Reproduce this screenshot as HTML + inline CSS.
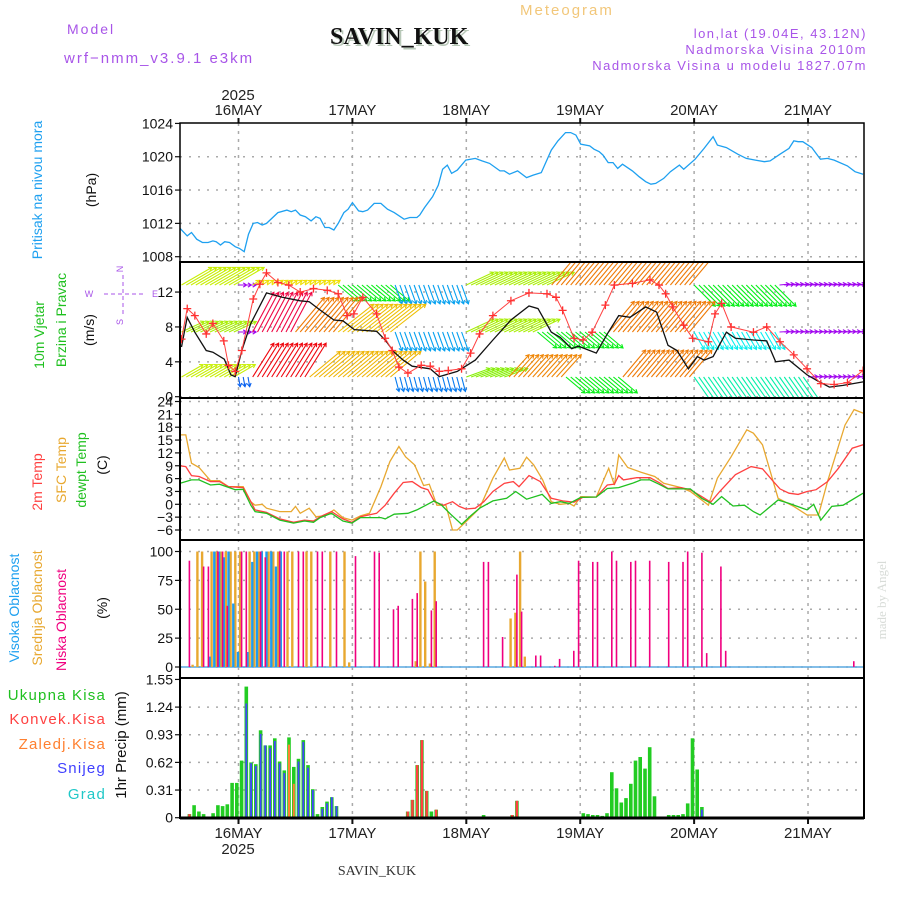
<!DOCTYPE html>
<html><head><meta charset="utf-8"><style>
body{margin:0;background:#fff}
svg{display:block;font-family:"Liberation Sans",sans-serif}
</style></head><body>
<svg id="chart" width="900" height="900" viewBox="0 0 900 900" xmlns="http://www.w3.org/2000/svg">
<defs>
<clipPath id="cp1"><rect x="180" y="123" width="684" height="139"/></clipPath>
<clipPath id="cp2"><rect x="180" y="262" width="684" height="136"/></clipPath>
<clipPath id="cp3"><rect x="180" y="398" width="684" height="142"/></clipPath>
<clipPath id="cp4"><rect x="180" y="540" width="684" height="138"/></clipPath>
<clipPath id="cp5"><rect x="180" y="678" width="684" height="140"/></clipPath>
</defs>
<rect width="900" height="900" fill="#fff"/>
<g>
<text x="67" y="34" font-size="14" fill="#a855e8" letter-spacing="2">Model</text>
<text x="64" y="63" font-size="15" fill="#a855e8" letter-spacing="2">wrf−nmm_v3.9.1 e3km</text>
<text x="332" y="46" font-size="24" font-weight="bold" font-family="Liberation Serif,serif" fill="#b8c8b8">SAVIN_KUK</text>
<text x="330" y="44" font-size="24" font-weight="bold" font-family="Liberation Serif,serif" fill="#111">SAVIN_KUK</text>
<text x="520" y="15" font-size="15" fill="#f2c77a" letter-spacing="2">Meteogram</text>
<text x="867" y="38" font-size="13" fill="#a855e8" text-anchor="end" letter-spacing="1.5">lon,lat (19.04E, 43.12N)</text>
<text x="867" y="54" font-size="13" fill="#a855e8" text-anchor="end" letter-spacing="1.5">Nadmorska Visina 2010m</text>
<text x="867" y="70" font-size="13" fill="#a855e8" text-anchor="end" letter-spacing="1.5">Nadmorska Visina u modelu 1827.07m</text>
<text x="238" y="100" font-size="15" fill="#222" text-anchor="middle">2025</text>
<text x="238" y="854" font-size="15" fill="#222" text-anchor="middle">2025</text>
<text x="377" y="875" font-size="14" font-family="Liberation Serif,serif" fill="#333" text-anchor="middle">SAVIN_KUK</text>
<text x="886" y="600" font-size="13" font-family="Liberation Serif,serif" fill="#d8dcd8" text-anchor="middle" transform="rotate(-90 886 600)">made by Angel</text>
</g>
<g font-size="14">
<text x="0" y="0" fill="#1ea0f0" text-anchor="middle" transform="translate(42,190) rotate(-90)">Pritisak na nivou mora</text>
<text x="0" y="0" fill="#111" text-anchor="middle" transform="translate(96,190) rotate(-90)">(hPa)</text>
<text x="0" y="0" fill="#20c020" text-anchor="middle" transform="translate(44,335) rotate(-90)">10m Vjetar</text>
<text x="0" y="0" fill="#20c020" text-anchor="middle" transform="translate(66,320) rotate(-90)">Brzina i Pravac</text>
<text x="0" y="0" fill="#111" text-anchor="middle" transform="translate(94,330) rotate(-90)">(m/s)</text>
<g fill="#a855e8" font-size="9" text-anchor="middle">
<text x="123" y="269" transform="rotate(-90 123 269)" font-size="9">N</text>
<text x="89" y="297">W</text><text x="155" y="297">E</text>
<text x="123" y="322" transform="rotate(-90 123 322)">S</text>
<line x1="104" y1="294" x2="143" y2="294" stroke="#a855e8" stroke-dasharray="4,3"/>
<line x1="123" y1="275" x2="123" y2="314" stroke="#a855e8" stroke-dasharray="4,3"/>
</g>
<text x="0" y="0" fill="#ff4040" text-anchor="middle" transform="translate(42,482) rotate(-90)">2m Temp</text>
<text x="0" y="0" fill="#e8a830" text-anchor="middle" transform="translate(66,470) rotate(-90)">SFC Temp</text>
<text x="0" y="0" fill="#20c020" text-anchor="middle" transform="translate(86,470) rotate(-90)">dewpt Temp</text>
<text x="0" y="0" fill="#111" text-anchor="middle" transform="translate(107,465) rotate(-90)">(C)</text>
<text x="0" y="0" fill="#1ea0f0" text-anchor="middle" transform="translate(19,608) rotate(-90)">Visoka Oblacnost</text>
<text x="0" y="0" fill="#e8a830" text-anchor="middle" transform="translate(42,608) rotate(-90)">Srednja Oblacnost</text>
<text x="0" y="0" fill="#f0007f" text-anchor="middle" transform="translate(66,620) rotate(-90)">Niska Oblacnost</text>
<text x="0" y="0" fill="#111" text-anchor="middle" transform="translate(107,608) rotate(-90)">(%)</text>
<g font-size="15" letter-spacing="1.2" text-anchor="end">
<text x="106" y="700" fill="#20c020">Ukupna Kisa</text>
<text x="106" y="724" fill="#ff4040">Konvek.Kisa</text>
<text x="106" y="749" fill="#ff8030">Zaledj.Kisa</text>
<text x="106" y="773" fill="#4040ff">Snijeg</text>
<text x="106" y="799" fill="#20c8c8">Grad</text>
</g>
<text x="0" y="0" fill="#111" font-size="15" text-anchor="middle" transform="translate(126,745) rotate(-90)">1hr Precip (mm)</text>
</g>
<g id="grid"></g>
<g id="marks"></g>
<g id="frames"></g>
</svg>
<script>
// ---- data ----
const dayTickLabels = ["16MAY","17MAY","18MAY","19MAY","20MAY","21MAY"];
const dayTickHours = [0,24,48,72,96,120];
const pressTicks = [1008,1012,1016,1020,1024];
const windTicks = [0,4,8,12];
const tempTicks = [24,21,18,15,12,9,6,3,0,-3,-6];
const cloudTicks = [0,25,50,75,100];
const precipTicks = [0,0.31,0.62,0.93,1.24,1.55];

const pressHours = [-12.3,-10.8,-9.9,-8.8,-7.6,-6.4,-5.4,-4.7,-3.8,-2.9,-1.9,-0.7,0.2,1.2,2.1,3.1,4.0,5.0,5.9,8.3,10.2,11.1,12.0,13.0,14.1,15.3,16.3,17.2,18.2,19.1,20.1,21.0,22.2,23.1,24.0,25.3,26.2,27.2,28.6,30.0,31.4,32.8,34.9,36.1,37.6,38.2,39.2,40.9,42.1,43.0,44.0,44.9,46.1,47.9,49.9,51.3,52.9,55.1,56.0,57.1,58.8,60.7,62.1,63.8,65.9,67.3,68.9,70.0,71.1,72.1,74.0,74.9,76.0,76.8,77.9,78.9,79.9,80.9,83.0,84.4,85.8,86.9,87.9,89.6,91.0,92.9,93.8,96.2,98.1,100.0,100.9,102.8,105.2,107.0,108.9,110.8,112.0,114.1,116.0,117.0,117.9,118.9,120.8,122.6,124.1,125.5,128.3,129.9,131.6];
const pressVals = [1011.4,1010.5,1010.9,1010.1,1009.7,1009.7,1009.9,1009.8,1009.4,1009.8,1009.7,1009.2,1009.0,1008.6,1010.7,1012.0,1012.1,1011.8,1012.0,1013.3,1013.6,1013.4,1013.6,1013.0,1012.8,1012.3,1012.8,1012.6,1011.5,1011.5,1011.2,1012.0,1013.3,1013.7,1014.5,1013.5,1013.4,1013.6,1014.4,1014.4,1013.7,1013.3,1012.5,1012.7,1012.7,1013.0,1013.9,1015.2,1016.6,1018.5,1019.0,1018.0,1018.4,1019.6,1019.8,1019.5,1019.2,1018.3,1018.3,1017.9,1018.3,1017.5,1017.8,1018.1,1020.8,1021.9,1022.9,1022.9,1022.6,1021.5,1021.3,1020.9,1020.6,1020.2,1019.3,1019.3,1018.6,1019.1,1018.3,1017.6,1017.0,1016.7,1016.8,1017.4,1018.2,1019.0,1018.5,1019.7,1021.0,1022.4,1021.4,1021.1,1020.3,1019.8,1019.6,1019.4,1019.5,1020.3,1021.0,1021.9,1021.8,1021.8,1021.1,1019.7,1019.8,1019.6,1018.9,1018.2,1017.9];

const speedHours = [-12.0,-10.8,-9.2,-6.8,-5.4,-3.0,-1.6,-0.7,0.7,2.6,5.9,9.2,13.0,14.9,16.8,20.1,22.0,24.4,29.1,30.9,32.8,34.7,36.6,40.4,42.3,46.1,49.9,53.6,57.4,61.2,63.1,65.9,67.8,70.2,71.6,75.4,77.7,80.1,82.5,85.8,88.1,90.5,92.4,94.8,96.7,98.1,100.0,102.8,104.7,108.5,111.3,113.2,116.0,119.8,121.7,124.5,127.4,131.6];
const speedVals = [5.7,9.1,7.4,5.3,5.1,4.3,2.5,2.3,5.3,8.4,11.9,11.4,11.0,10.9,10.1,8.8,8.7,7.7,7.5,6.5,5.1,4.2,3.5,3.2,2.3,2.9,4.2,6.5,8.8,10.4,10.1,7.4,6.8,5.5,5.8,5.0,7.2,9.3,9.1,10.3,9.7,5.9,5.3,3.2,4.6,4.2,4.6,7.4,6.7,6.5,6.4,4.0,4.2,2.5,1.9,1.1,1.3,1.7];
const gustHours = [-12.0,-10.8,-9.2,-6.8,-5.4,-3.1,-2.1,-0.7,0.7,3.1,4.5,5.9,8.3,10.6,13.0,15.8,18.7,21.0,22.9,24.3,26.2,29.1,30.9,32.4,33.8,35.7,38.5,40.4,42.3,44.2,47.0,48.9,50.8,53.6,57.4,61.2,65.0,66.9,68.3,70.7,72.6,74.5,77.3,79.2,83.0,86.7,88.6,90.0,91.5,93.8,95.7,99.0,100.4,101.8,103.8,108.5,111.3,114.1,117.0,119.8,122.7,125.5,128.3,131.6];
const gustVals = [6.6,10.1,9.3,7.2,8.4,6.4,3.6,2.9,5.3,11.2,12.9,14.2,13.1,12.8,12.0,12.4,12.2,11.8,9.3,9.5,11.4,9.5,6.7,5.3,3.4,2.7,3.6,3.5,2.9,3.0,3.2,5.0,7.2,9.3,11.0,11.9,11.8,11.4,9.9,6.7,6.5,7.4,10.5,12.8,13.0,13.4,12.8,11.8,10.3,8.2,6.7,6.3,9.5,10.7,8.0,7.4,8.0,6.3,4.8,3.2,1.5,1.4,1.6,3.0];

const windHours = [-12,-9,-6,-3,0,3,6,9,12,15,18,21,24,27,30,33,36,39,42,45,48,51,54,57,60,63,66,69,72,75,78,81,84,87,90,93,96,99,102,105,108,111,114,117,120,123,126,129,132];
const dir1 = [240,240,240,240,270,235,235,235,235,235,235,310,310,310,310,340,340,340,340,340,245,245,245,245,245,245,220,220,220,220,220,220,220,220,220,220,315,315,315,315,315,315,265,265,265,265,265,265,265];
const spd1 = [11.7,11.7,11.7,11.7,2.7,2.7,2.7,2.7,2.7,2.7,2.7,8.3,8.3,8.3,8.3,6.7,6.7,6.7,6.7,6.7,10,10,10,10,10,10,13.3,13.3,13.3,13.3,13.3,13.3,13.3,13.3,13.3,13.3,10,10,10,10,10,10,3.3,3.3,3.3,3.3,3.3,3.3,3.3];
const dir2 = [245,245,245,245,270,208,208,208,220,220,220,232,232,232,232,340,340,340,340,340,245,245,245,245,245,310,310,310,310,310,220,220,220,220,220,220,330,330,330,330,330,330,267,267,267,267,267,267,267];
const spd2 = [8.3,8.3,8.3,8.3,2.7,15,15,15,15,15,15,15,15,15,15,6.7,6.7,6.7,6.7,6.7,10,10,10,10,10,8.3,8.3,8.3,8.3,8.3,13.3,13.3,13.3,13.3,13.3,13.3,6.7,6.7,6.7,6.7,6.7,6.7,3.3,3.3,3.3,3.3,3.3,3.3,3.3];
const dir3 = [240,240,240,240,350,212,212,212,212,230,230,230,230,230,230,345,345,345,345,345,250,250,250,222,222,222,222,310,310,310,310,220,220,220,220,220,325,325,325,325,325,325,325,325,267,267,267,267,267];
const spd3 = [8.3,8.3,8.3,8.3,3.3,13.3,13.3,13.3,13.3,13.3,13.3,13.3,13.3,13.3,13.3,5,5,5,5,5,8.3,8.3,8.3,10,10,10,10,8.3,8.3,8.3,8.3,11.7,11.7,11.7,11.7,11.7,10,10,10,10,10,10,10,10,3.3,3.3,3.3,3.3,3.3];

const t2Hours = [-12.3,-11.1,-9.9,-8.3,-5.9,-4.0,-2.1,1.0,2.6,3.5,5.9,8.7,11.6,13.9,15.8,17.2,19.6,22.0,23.9,25.7,29.1,30.9,32.8,34.7,36.6,38.5,39.9,41.3,43.2,45.1,46.5,47.9,49.9,51.7,53.6,56.0,57.9,59.1,61.2,63.6,65.9,68.3,70.7,72.5,75.4,77.7,79.2,80.1,81.1,83.9,86.7,88.6,90.5,93.3,95.2,97.6,99.5,101.4,104.7,108.0,110.4,112.7,114.1,116.0,117.9,119.8,121.7,124.1,126.4,129.3,131.6];
const t2Vals = [9.0,8.8,6.7,6.5,5.3,5.3,4.1,3.9,0.6,-1.3,-1.9,-3.4,-4.2,-3.7,-3.9,-2.9,-1.7,-3.4,-4.2,-2.9,-2.1,-0.2,2.6,5.1,5.3,3.9,3.4,0.6,-0.2,0.6,-0.5,-1.1,-0.9,0.6,3.0,4.9,5.3,4.1,6.7,5.3,1.4,0.8,0.5,1.6,1.7,4.5,4.7,6.7,5.7,6.2,6.2,5.1,3.7,3.9,3.4,1.8,0.5,3.0,6.9,8.8,8.3,5.3,3.6,2.6,2.3,3.0,3.4,5.3,8.4,13.1,13.9];
const sfcHours = [-12.3,-11.1,-9.9,-8.3,-5.9,-4.0,-2.1,1.0,2.6,3.5,5.0,5.9,8.7,11.1,12.0,13.0,14.9,16.3,18.2,20.1,22.0,23.9,25.7,27.6,30.0,31.9,33.8,35.2,37.1,39.0,40.2,41.8,43.7,45.1,46.1,47.9,50.8,53.6,56.0,57.1,59.3,60.7,62.2,64.1,65.9,67.8,69.7,70.7,72.1,75.4,78.0,79.2,80.1,82.0,84.8,87.7,89.6,93.3,95.2,97.6,99.0,100.9,103.8,107.1,108.5,110.4,113.7,117.0,119.8,122.2,124.1,127.8,129.7,131.6];
const sfcVals = [16.2,16.2,9.6,8.6,5.5,5.5,4.1,4.1,0.6,-0.2,0,-0.9,-1.7,-1.7,-0.5,-2.1,-0.9,-2.9,-2.7,-1.3,-3.1,-3.7,-2.7,-2.1,4.1,10.0,13.5,11.1,9.2,4.4,4.7,-0.2,-0.2,-6.0,-6.0,-4.1,-0.9,6.1,10.8,8.0,8.4,11.0,9.2,5.7,0.6,0,0.2,-0.4,1.8,1.7,8.4,4.5,11.5,8.6,7.5,6.5,4.9,3.9,3.0,1.0,-0.2,6.1,11.1,17.4,16.6,13.9,1.4,-0.5,-2.5,-2.5,5.3,18.5,22.1,21.3];
const dewHours = [-12.3,-9.9,-8.3,-5.9,-4.0,-0.7,1.0,2.6,3.5,5.9,8.7,11.6,13.9,15.8,17.2,19.6,22.0,23.9,25.7,30.0,30.9,32.8,35.7,37.6,39.5,41.2,42.8,44.7,47.0,48.9,50.8,53.6,56.5,58.4,60.7,64.0,65.9,67.8,69.7,72.1,75.4,77.7,80.1,83.0,84.8,86.7,88.6,90.5,95.2,97.6,100.0,101.8,104.2,106.6,108.5,109.9,113.7,116.0,119.8,121.2,122.7,125.0,127.4,131.6];
const dewVals = [4.9,5.7,5.7,4.5,4.7,3.4,3.5,-0.2,-1.7,-2.1,-3.7,-4.4,-3.9,-4.2,-3.1,-2.1,-3.9,-4.4,-3.1,-3.1,-3.4,-2.3,-2.1,-1.3,-0.2,0.8,-0.2,-2.3,-4.7,-2.7,-0.9,0.8,1.4,3.0,1.2,2.3,0.2,0.6,0.2,1.6,1.7,3.7,3.9,4.9,5.7,5.7,4.7,3.6,3.6,1.4,0,1.8,-0.4,-0.2,-1.7,-2.5,1.0,0.2,-1.3,0,-3.7,-0.5,-0.2,2.6];

const lowHours = [-10,-7,-6,-4,-3,-2,1,2,5,6,9,10,13,14,17,18,21,25,29,30,33,34,37,38,41,42,52,53,56,59,60,63,64,67,68,71,72,75,76,79,80,83,84,87,91,94,95,98,99,102,103,130];
const lowVals = [92,87,87,100,100,53,100,100,100,95,100,100,100,100,100,100,100,96,100,99,50,53,59,64,49,57,91,91,26,80,48,10,10,1,7,14,92,91,91,100,92,91,92,92,91,91,100,99,12,87,14,5];
const midHours = [-9,-8,-7,-5,-4,-3,-2,-1,0,1,3,4,5,7,8,9,11,12,15,16,20,23,24,38,39,40,41,42,58,59,60,61];
const midVals = [2,100,100,100,100,100,100,100,100,100,100,100,100,100,100,100,100,100,100,100,100,100,4,5,100,74,3,100,42,47,100,9];
const highHours = [-6,-5,-4,-3,-2,-1,0,2,3,4,5,6,7,8,9];
const highVals = [9,100,100,95,100,55,13,13,91,100,100,100,100,87,100];

const totalHours = [-10,-9,-8,-7,-5,-4,-3,-2,-1,0,1,2,3,4,5,6,7,8,9,10,11,12,13,14,15,16,17,18,19,20,21,36,37,38,39,40,41,42,52,58,59,73,74,75,76,77,78,79,80,81,82,83,84,85,86,87,88,90,91,92,93,94,95,96,97,98];
const totalVals = [0.04,0.14,0.07,0.04,0.05,0.14,0.13,0.15,0.39,0.39,0.64,1.47,0.62,0.60,0.98,0.81,0.81,0.89,0.63,0.53,0.90,0.57,0.66,0.87,0.59,0.32,0.04,0.12,0.18,0.23,0.13,0.07,0.20,0.59,0.87,0.30,0.07,0.09,0.03,0.03,0.19,0.05,0.04,0.03,0.03,0.02,0.05,0.51,0.33,0.17,0.22,0.38,0.64,0.68,0.55,0.79,0.24,0.01,0.03,0.03,0.03,0.04,0.16,0.89,0.54,0.12];
const snowHours = [2,3,4,5,6,7,8,9,10,13,14,15,16,18,19,20,21,98];
const snowVals = [1.28,0.61,0.58,0.94,0.81,0.78,0.86,0.61,0.50,0.63,0.85,0.56,0.31,0.10,0.16,0.23,0.13,0.09];
const frozenHours = [11,12];
const frozenVals = [0.82,0.38];
const convHours = [-10,36,37,38,39,40,42,58,59];
const convVals = [0.04,0.07,0.20,0.59,0.87,0.30,0.09,0.03,0.19];

// ---- scales ----
const X0 = 238.5, PXH = 4.746, BAR_SHIFT = -0.35;
const xS = h => X0 + h * PXH;
const yP = p => 256.7 - (p - 1008) * 8.33;
const yW = v => 396.7 - v * 8.72;
const yT = t => 504.3 - t * 4.283;
const yC = c => 667 - c * 1.155;
const yR = r => 817.7 - r * 89.2;
const L = 180, R = 864;
const NS = "http://www.w3.org/2000/svg";
function mk(tag, attrs, parent) {
  const e = document.createElementNS(NS, tag);
  for (const k in attrs) e.setAttribute(k, attrs[k]);
  parent.appendChild(e);
  return e;
}
const grid = document.getElementById('grid');
const marks = document.getElementById('marks');
const frames = document.getElementById('frames');

function yAxis(ticks, yf, top, bottom, name, fmt) {
  ticks.forEach(t => {
    const y = yf(t);
    if (y > top + 2 && y < bottom - 1) {
      const g = mk('line', {x1: L, x2: R, y1: y, y2: y, stroke: '#aaa', 'stroke-dasharray': '2,7', 'stroke-width': 1.5}, grid);
      
      
    }
    const tk = mk('line', {x1: L - 5, x2: L, y1: y, y2: y, stroke: '#111', 'stroke-width': 1.2}, frames);
    
    
    const tx = mk('text', {x: L - 7, y: y + 5, 'font-size': 14, 'text-anchor': 'end', fill: '#111'}, frames);
    
    
    tx.textContent = fmt ? fmt(t) : String(t);
  });
}
yAxis(pressTicks, yP, 123, 262, 'pressure');
yAxis(windTicks, yW, 262, 400, 'wind');
yAxis(tempTicks, yT, 398, 540, 'temp', t => t < 0 ? '−' + (-t) : String(t));
yAxis(cloudTicks, yC, 540, 678, 'cloud');
yAxis(precipTicks, yR, 678, 818, 'precip', t => t === 0 ? '0' : t.toFixed(2));

dayTickHours.forEach((h, i) => {
  const x = xS(h);
  const g = mk('line', {x1: x, x2: x, y1: 123, y2: 818, stroke: '#aaa', 'stroke-dasharray': '3,5', 'stroke-width': 1.5}, grid);
  
  
  [[123, 118], [818, 824]].forEach(([a, b]) => {
    const tk = mk('line', {x1: x, x2: x, y1: a, y2: b, stroke: '#111', 'stroke-width': 2}, frames);
    
    
  });
  const t1 = mk('text', {x: x, y: 115, 'font-size': 15, 'text-anchor': 'middle', fill: '#222'}, frames);
  
  
  t1.textContent = dayTickLabels[i];
  const t2 = mk('text', {x: x, y: 838, 'font-size': 15, 'text-anchor': 'middle', fill: '#222'}, frames);
  
  
  t2.textContent = dayTickLabels[i];
});

function line(hours, vals, yf, color, clip, name, w) {
  const d = hours.map((h, i) => (i ? 'L' : 'M') + xS(h).toFixed(1) + ',' + yf(vals[i]).toFixed(1)).join('');
  const p = mk('path', {d: d, fill: 'none', stroke: color, 'stroke-width': w || 1.3, 'clip-path': 'url(#' + clip + ')'}, marks);
  
  
}
line(pressHours, pressVals, yP, '#1ea0f0', 'cp1', 'pressure-line');

function hueFor(dir) {
  const tbl = [[200, 320], [210, 350], [220, 390], [232, 408], [240, 430], [252, 450], [256, 640], [280, 640], [290, 480], [315, 485], [330, 540], [345, 570], [360, 590]];
  for (let i = 1; i < tbl.length; i++) {
    if (dir <= tbl[i][0]) {
      const [a, ha] = tbl[i - 1], [b, hb] = tbl[i];
      return (ha + (hb - ha) * (dir - a) / (b - a)) % 360;
    }
  }
  return 230;
}
const windRows = [[dir1, spd1, 285], [dir2, spd2, 332], [dir3, spd3, 377]];
const wg = mk('g', {'clip-path': 'url(#cp2)'}, marks);


windRows.forEach(([dirs, spds, by], r) => {
  windHours.forEach((h, i) => {
    const to = (dirs[i] + 180) * Math.PI / 180;
    const len = spds[i] * 3;
    const dx = Math.sin(to) * len, dy = -Math.cos(to) * len;
    const col = 'hsl(' + hueFor(dirs[i]).toFixed(0) + ',95%,48%)';
    for (let s = 0; s < 3; s++) {
      const x = xS(h + s);
      const tx = x + dx, ty = by + dy;
      const ang = Math.atan2(dy, dx);
      const a1 = ang + 2.6, a2 = ang - 2.6;
      const a = mk('path', {d: 'M' + x.toFixed(1) + ',' + by + 'L' + tx.toFixed(1) + ',' + ty.toFixed(1) +
        'M' + (tx + 4 * Math.cos(a1)).toFixed(1) + ',' + (ty + 4 * Math.sin(a1)).toFixed(1) + 'L' + tx.toFixed(1) + ',' + ty.toFixed(1) +
        'L' + (tx + 4 * Math.cos(a2)).toFixed(1) + ',' + (ty + 4 * Math.sin(a2)).toFixed(1),
        stroke: col, fill: 'none', 'stroke-width': 1.1}, wg);
      
      
    }
  });
});
line(speedHours, speedVals, yW, '#111', 'cp2', 'wind-speed-line', 1.3);
line(gustHours, gustVals, yW, '#ff4040', 'cp2', 'wind-gust-line', 1);
gustHours.forEach((h, i) => {
  const x = xS(h), y = yW(gustVals[i]);
  const c = mk('path', {d: `M${x - 4},${y}h8M${x},${y - 4}v8`, stroke: '#ff3030', 'stroke-width': 1.3, 'clip-path': 'url(#cp2)'}, marks);
  
  
});

line(sfcHours, sfcVals, yT, '#e8a830', 'cp3', 'sfc-temp-line');
line(t2Hours, t2Vals, yT, '#ff4040', 'cp3', 'temp-2m-line');
line(dewHours, dewVals, yT, '#20c020', 'cp3', 'dewpoint-line');

function bars(hours, vals, yf, base, color, w, clip, name, dx) {
  hours.forEach((h, i) => {
    const x = xS(h + BAR_SHIFT) + (dx || 0);
    const y = yf(vals[i]);
    const b = mk('rect', {x: (x - w / 2).toFixed(1), y: y.toFixed(1), width: w, height: Math.max(0.5, base - y).toFixed(1), fill: color, 'clip-path': 'url(#' + clip + ')'}, marks);
    
    
  });
}
const cb = mk('line', {x1: L, x2: R, y1: yC(0), y2: yC(0), stroke: '#5aa8e0', 'stroke-width': 1.5}, marks);


bars(midHours, midVals, yC, yC(0), '#e8a830', 2.4, 'cp4', 'cloud-mid-bar', -1.5);
bars(highHours, highVals, yC, yC(0), '#1e9cf0', 2.4, 'cp4', 'cloud-high-bar', 1.2);
bars(lowHours, lowVals, yC, yC(0), '#f0007f', 1.6, 'cp4', 'cloud-low-bar', 0);

bars(totalHours, totalVals, yR, yR(0), '#22cc22', 3.6, 'cp5', 'precip-total-bar');
bars(convHours, convVals, yR, yR(0), '#ff4040', 2.4, 'cp5', 'precip-convective-bar');
bars(frozenHours, frozenVals, yR, yR(0), '#ff8030', 2, 'cp5', 'precip-frozen-bar');
bars(snowHours, snowVals, yR, yR(0), '#4444ff', 1.8, 'cp5', 'precip-snow-bar');

[[123, 262], [262, 398], [398, 540], [540, 678], [678, 818]].forEach(([a, b], i) => {
  const f = mk('rect', {x: L, y: a, width: R - L, height: b - a, fill: 'none', stroke: '#000', 'stroke-width': i === 0 ? 1.5 : 2}, frames);
  
  
});
const bl = mk('line', {x1: L, x2: R, y1: 818, y2: 818, stroke: '#000', 'stroke-width': 3}, frames);


</script>
</body></html>
